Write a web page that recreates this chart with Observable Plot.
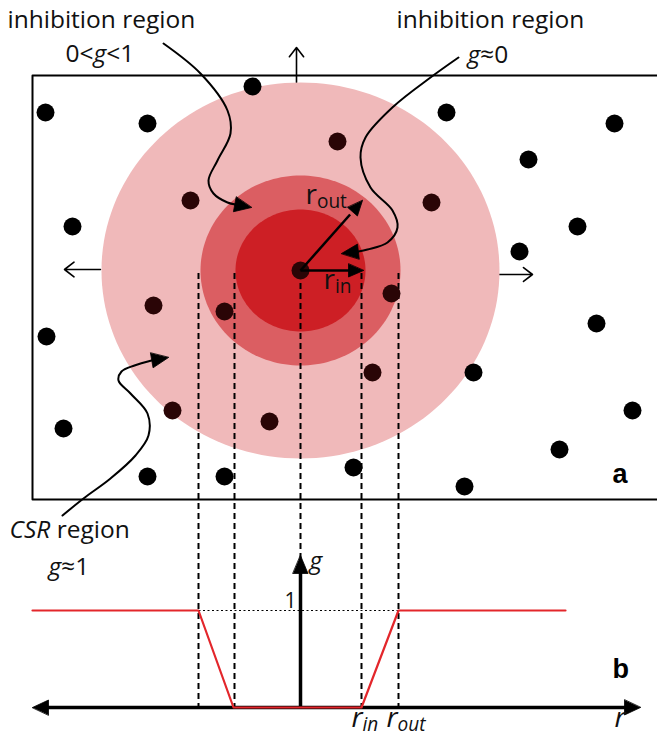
<!DOCTYPE html>
<html><head><meta charset="utf-8">
<script src="https://cdn.jsdelivr.net/npm/d3@7"></script>
<script src="https://cdn.jsdelivr.net/npm/@observablehq/plot@0.6"></script>
<style>body{margin:0;background:#fff}</style>
</head><body><div id="chart"></div>
<script>
// ---- data (diagram units) ----
const dotX = [252,45,147,337,446,614,528,190,431,72,577,519,153,224,391,46,596,372,473,172,269,63,632,559,353,147,224,464];
const dotY = [86,112,123,141,112,123,159,200,202,226,226,251,305,311,293,336,323,372,372,410,421,428,410,449,467,476,476,486];
const centerX = 300, centerY = 270;
const ringRx = [199,100,65];
const ringRy = [188,95,61];
const gR = [32,198,233,361,398,565];   // r positions of profile knots
const gVal = [1,1,0,0,1,1];            // g values
const dashX = [198,234,300,361,398];   // r_out-, r_in-, 0, r_in+, r_out+
const gBase = 707, gUnit = 97;

// ---- styles ----
const ringFill = ["#f0b9ba","#db5e62","#cd1f25"];
const font = "Open Sans, sans-serif";

// geometry helpers
function ellipse(cx, cy, rx, ry, id, n = 160) {
  return d3.range(n).map(i => {
    const a = 2 * Math.PI * i / n;
    return {x: cx + rx * Math.cos(a), y: cy + ry * Math.sin(a), id};
  });
}
function head(tip, from, len, w, id) {
  const dx = tip[0] - from[0], dy = tip[1] - from[1], L = Math.hypot(dx, dy);
  const ux = dx / L, uy = dy / L, bx = tip[0] - ux * len, by = tip[1] - uy * len;
  return [
    {x: tip[0], y: tip[1], id},
    {x: bx - uy * w / 2, y: by + ux * w / 2, id},
    {x: bx + uy * w / 2, y: by - ux * w / 2, id}
  ];
}
const pts = (arr, id) => arr.map(([x, y]) => ({x, y, id}));

const rings = ringRx.flatMap((rx, i) => ellipse(centerX, centerY, rx, ringRy[i], i));
const dots = dotX.map((x, i) => {
  const y = dotY[i];
  const inside = ((x - centerX) / ringRx[0]) ** 2 + ((y - centerY) / ringRy[0]) ** 2 < 1;
  return {x, y, fill: inside ? "#2a0506" : "#000"};
});
dots.push({x: centerX, y: centerY, fill: "#2a0506"});

// curvy arrows
const c1 = [[163,43],[200,73],[227,110],[230,133],[217,160],[208,180],[213,193],[227,202],[235,204]];
const c2 = [[458,57],[430,77],[393,106],[365,137],[360,157],[370,187],[392,210],[397,227],[387,242],[367,249],[358,251]];
const c3 = [[62,515],[83,498],[110,478],[135,455],[148,435],[147,413],[130,393],[118,380],[121,371],[134,365],[151,360]];
const curves = [...pts(c1, 1), ...pts(c2, 2), ...pts(c3, 3)];
const heads = [
  ...head([251,207], [235,204], 17, 15, 1),
  ...head([341,253], [358,251], 17, 15, 2),
  ...head([168,357], [151,360], 17, 15, 3),
  // r_out, r_in arrows
  ...head([362,200], [centerX, centerY], 15, 13, 4),
  ...head([363,centerY], [centerX, centerY], 15, 13, 5),
  // axes
  ...head([32,gBase], [300,gBase], 16, 15, 6),
  ...head([640,gBase], [300,gBase], 16, 15, 7),
  ...head([centerX,555], [centerX,gBase], 18, 15, 8)
];

const profile = gR.map((r, i) => ({x: r, y: gBase - gVal[i] * gUnit}));

// labels: [text-with-markup, x, baseline y]
const labelsMain = [
  ["inhibition region", 7, 27],
  ["0<[i:g]<1", 65, 61],
  ["inhibition region", 396, 27],
  ["[i:g]≈0", 467, 62],
  ["[i:CSR] region", 9, 537],
  ["[i:g]≈1", 48, 574],
  ["[i:g]", 309, 568]
];
const labelsR = [
  ["r[sub:out]", 305, 203],
  ["r[sub:in]", 323, 288],
  ["[i:r][isub:in]", 351, 726],
  ["[i:r][isub:out]", 386, 726],
  ["[i:r]", 614, 726]
];
const labelOne = [["1", 284, 607]];
const labelPanels = [["a", 612, 482], ["b", 612, 677]];

const textOpts = (size, extra = {}) => ({
  x: d => d[1], y: d => d[2], text: d => d[0], textAnchor: "start", lineAnchor: "bottom",
  fontSize: size, fontFamily: font, fill: "#111", ...extra
});

const plot = Plot.plot({
  width: 657, height: 738, margin: 0,
  x: {domain: [0, 657], range: [0, 657], axis: null},
  y: {domain: [0, 738], range: [0, 738], axis: null},
  style: {background: "white"},
  marks: [
    // frame of panel a (top, left, bottom)
    Plot.line([[657,75],[32,75],[32,499],[657,499]], {x: d => d[0], y: d => d[1], stroke: "#000", strokeWidth: 2}),
    // expansion arrows
    Plot.arrow([[296,82,296,47],[100,269,64,269],[498,274,532,274]], {
      x1: d => d[0], y1: d => d[1], x2: d => d[2], y2: d => d[3],
      stroke: "#000", strokeWidth: 1.6, headLength: 14, headAngle: 75
    }),
    // inhibition rings
    Plot.line(rings, {x: "x", y: "y", z: "id", fill: d => ringFill[d.id], stroke: "none", curve: "linear-closed"}),
    // dashed projections
    Plot.ruleX(dashX, {x: d => d, y1: 273, y2: gBase, stroke: "#000", strokeWidth: 2, strokeDasharray: "6,4"}),
    // points
    Plot.dot(dots, {x: "x", y: "y", r: 9, fill: d => d.fill, stroke: "none"}),
    // g = 1 dotted guide
    Plot.link([[198,398]], {x1: d => d[0], x2: d => d[1], y1: gBase - gUnit, y2: gBase - gUnit, stroke: "#000", strokeWidth: 1.2, strokeDasharray: "2,2.5"}),
    // radius arrows
    Plot.link([[362,200],[363,centerY]], {x1: centerX, y1: centerY, x2: d => centerX + (d[0]-centerX)*0.8, y2: d => centerY + (d[1]-centerY)*0.8, stroke: "#000", strokeWidth: 2.5}),
    // curvy pointers
    Plot.line(curves, {x: "x", y: "y", z: "id", stroke: "#000", strokeWidth: 2, curve: "catmull-rom"}),
    // axes of panel b
    Plot.link([[44,gBase,628,gBase],[centerX,gBase,centerX,571]], {x1: d => d[0], y1: d => d[1], x2: d => d[2], y2: d => d[3], stroke: "#000", strokeWidth: 3.5}),
    // g(r) profile
    Plot.line(profile, {x: "x", y: "y", stroke: "#e3262b", strokeWidth: 2.2}),
    // arrow heads
    Plot.line(heads, {x: "x", y: "y", z: "id", fill: "#000", stroke: "#000", strokeWidth: 0.8, strokeLinejoin: "miter", curve: "linear-closed"}),
    // texts
    Plot.text(labelsMain, textOpts(24.5)),
    Plot.text(labelsR, textOpts(28)),
    Plot.text(labelOne, textOpts(21)),
    Plot.text(labelPanels, textOpts(27, {fontFamily: "Liberation Sans, Arial, sans-serif", fontWeight: "bold", fill: "#000"}))
  ]
});

// rich text: [i:..] italic, [sub:..] subscript, [isub:..] italic subscript
const NS = "http://www.w3.org/2000/svg";
plot.querySelectorAll("text").forEach(t => {
  const s = t.textContent;
  if (!s.includes("[")) return;
  t.textContent = "";
  const re = /\[(\w+):([^\]]*)\]|([^\[]+)/g;
  let m, shifted = false;
  while ((m = re.exec(s))) {
    const ts = document.createElementNS(NS, "tspan");
    if (m[3]) {
      ts.textContent = m[3];
      if (shifted) { ts.setAttribute("dy", "-0.17em"); shifted = false; }
    } else {
      ts.textContent = m[2];
      const kind = m[1];
      if (kind === "i" || kind === "isub") ts.setAttribute("font-style", "italic");
      if (kind === "sub" || kind === "isub") {
        ts.setAttribute("font-size", "0.68em");
        ts.setAttribute("dy", "0.25em");
        shifted = true;
      } else if (shifted) { ts.setAttribute("dy", "-0.17em"); shifted = false; }
    }
    t.appendChild(ts);
  }
});
document.getElementById("chart").appendChild(plot);
</script>
</body></html>
